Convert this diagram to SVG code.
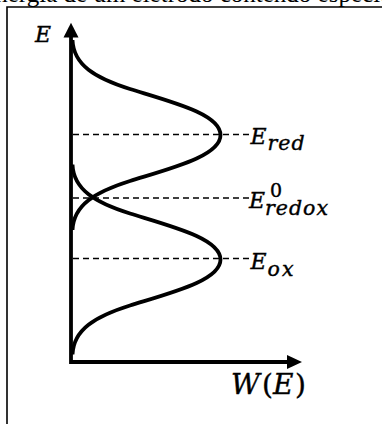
<svg xmlns="http://www.w3.org/2000/svg" width="382" height="424" viewBox="0 0 382 424">
<style>
.frame{fill:none;stroke:#000;stroke-width:1.6}
.axis{fill:none;stroke:#000;stroke-width:3.8}
.curve{fill:none;stroke:#000;stroke-width:3.8}
.dash{fill:none;stroke:#000;stroke-width:1.6;stroke-dasharray:6 4}
.m{font-family:"DejaVu Serif",serif;font-style:italic;fill:#000;stroke:#000;stroke-width:0.4}
.u{font-family:"DejaVu Serif",serif;font-style:normal;fill:#000;stroke:#000;stroke-width:0.4}
.doc{font-family:"Liberation Serif",serif;font-size:25px;fill:#000}
</style>
<defs>
<path id="g" d="M72.5,-95 C73.5,-70 95,-57 130,-46 C172,-33 220.5,-21 220.5,0 C220.5,21 172,33 130,46 C95,57 73.5,70 72.5,95"/>
</defs>
<text class="doc" x="-20" y="1.5">Energia de um eletrodo contendo espécies</text>
<g id="frame">
<path class="frame" d="M7,424 V7 H382"/>
</g>
<g id="connectors">
<path class="axis" d="M71,35 V362 H289"/>
<polygon points="71,22.7 63.5,37.5 78.5,37.5" fill="#000"/>
<polygon points="302,362 287,355 287,369" fill="#000"/>
<line class="dash" x1="73" y1="134.5" x2="249" y2="134.5"/>
<line class="dash" x1="73" y1="198" x2="249" y2="198"/>
<line class="dash" x1="73" y1="258.5" x2="249" y2="258.5"/>
</g>
<g id="red-curve"><use href="#g" class="curve" transform="translate(0,135)"/></g>
<g id="ox-curve"><use href="#g" class="curve" transform="translate(0,259.5)"/></g>
<g id="label-E"><text class="m" x="35" y="41.5" font-size="22">E</text></g>
<g id="label-Ered">
<text class="m" x="250.5" y="143.5" font-size="22">E</text>
<text class="m" x="267.5" y="149.5" font-size="20.5" textLength="37">red</text>
</g>
<g id="label-Eredox">
<text class="m" x="249" y="207.5" font-size="22">E</text>
<text class="u" x="270" y="197" font-size="19">0</text>
<text class="m" x="265" y="215" font-size="20.5" textLength="63">redox</text>
</g>
<g id="label-Eox">
<text class="m" x="250.5" y="268.5" font-size="22">E</text>
<text class="m" x="267.5" y="275.5" font-size="20.5" textLength="26">ox</text>
</g>
<g id="label-W">
<text class="m" x="231" y="394" font-size="28">W</text>
<text class="u" x="262" y="394" font-size="28">(</text>
<text class="m" x="273" y="394" font-size="28">E</text>
<text class="u" x="295" y="394" font-size="28">)</text>
</g>
</svg>
